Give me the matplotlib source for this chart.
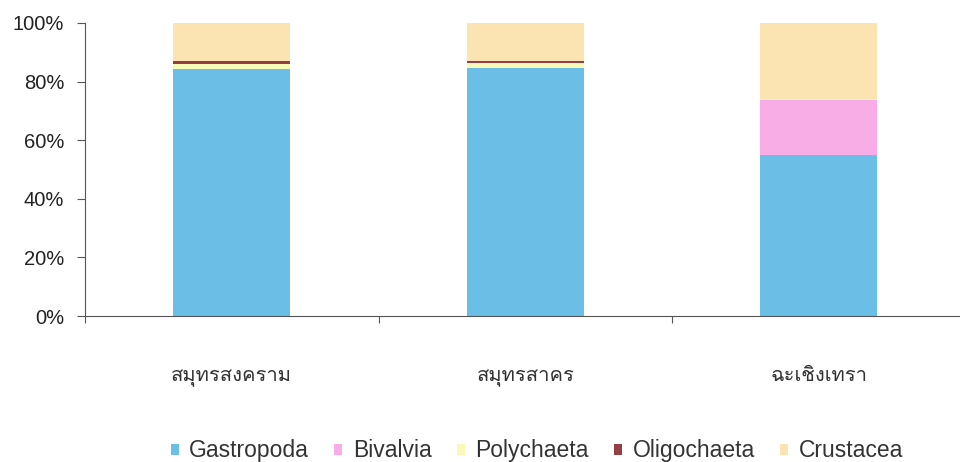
import matplotlib
matplotlib.use("Agg")
import numpy as np
import matplotlib.pyplot as plt

# data (% composition of benthos groups per province)
provinces = ["สมุทรสงคราม", "สมุทรสาคร", "ฉะเชิงเทรา"]
groups = ["Gastropoda", "Bivalvia", "Polychaeta", "Oligochaeta", "Crustacea"]
gastropoda = [84.3, 84.6, 55.0]
bivalvia = [0.0, 0.0, 18.8]
polychaeta = [1.8, 1.6, 0.2]
oligochaeta = [0.8, 0.7, 0.0]
crustacea = [13.1, 13.1, 26.0]
colors = ["#6bbfe6", "#f8ade6", "#fafab8", "#953f45", "#fce4b2"]

plt.rcParams['font.family'] = ['Liberation Sans', 'DejaVu Sans']

fig = plt.figure(figsize=(9.6, 4.62), dpi=100)
ax = fig.add_axes([85/960, 146/462, 880.5/960, 293/462])

x = np.arange(len(provinces))
bottom = np.zeros(len(provinces))
for name, vals, c in zip(groups, [gastropoda, bivalvia, polychaeta, oligochaeta, crustacea], colors):
    ax.bar(x, vals, width=0.4, bottom=bottom, color=c, label=name, linewidth=0)
    bottom += np.array(vals)

ax.set_xlim(-0.5, 2.5)
ax.set_ylim(0, 100)
ax.set_yticks([0, 20, 40, 60, 80, 100])
ax.set_yticklabels(["0%", "20%", "40%", "60%", "80%", "100%"], fontsize=14.5, color="#222222")
ax.tick_params(axis="y", length=6, width=0.8, color="#555555", pad=9)

# category boundary ticks + labels underneath
ax.set_xticks([-0.5, 0.5, 1.5, 2.5])
ax.set_xticklabels([])
ax.tick_params(axis="x", which="major", length=5, width=0.8, color="#555555")
ax.set_xticks(x, minor=True)
ax.set_xticklabels(provinces, minor=True, fontsize=14.5, family=['Loma', 'DejaVu Sans'], color="#333333")
ax.tick_params(axis="x", which="minor", length=0, pad=47)
for lbl in ax.get_xticklabels(minor=True):
    lbl.set_verticalalignment("baseline")

for s in ["top", "right"]:
    ax.spines[s].set_visible(False)
ax.spines["left"].set_color("#555555")
ax.spines["bottom"].set_color("#555555")
ax.spines["left"].set_linewidth(0.8)
ax.spines["bottom"].set_linewidth(0.8)

fig.legend(loc="center", bbox_to_anchor=(0.559, 0.024), ncol=5, frameon=False,
           fontsize=16.5, handlelength=0.36, handleheight=0.36, handletextpad=0.45,
           columnspacing=1.1, labelcolor="#333333")

fig.savefig("out.png", dpi=100)
